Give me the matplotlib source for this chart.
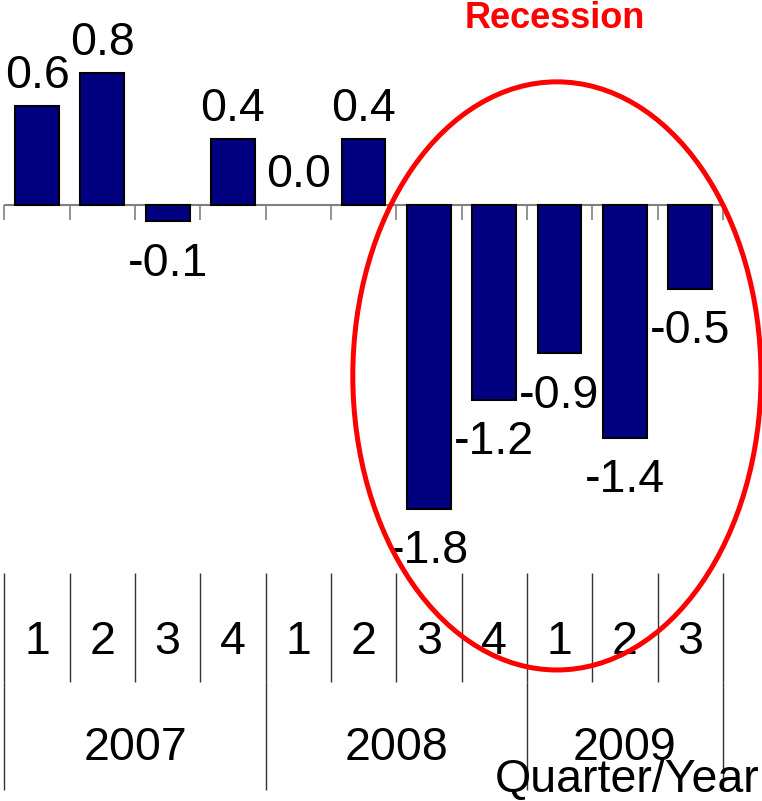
import matplotlib
matplotlib.use("Agg")
import matplotlib.pyplot as plt
from matplotlib.patches import Ellipse
from matplotlib import transforms

plt.rcParams['font.family'] = ['Liberation Sans', 'DejaVu Sans']

# quarterly GDP change (%)
quarters = ['1', '2', '3', '4', '1', '2', '3', '4', '1', '2', '3']
years = ['2007', '2008', '2009']
year_counts = [4, 4, 3]
values = [0.6, 0.8, -0.1, 0.4, 0.0, 0.4, -1.84, -1.18, -0.9, -1.41, -0.51]

fig = plt.figure(figsize=(7.62, 8.01), dpi=100)
ax = fig.add_axes([0, 0, 1, 1])
ax.set_xlim(-0.567, 11.10)
ax.set_ylim(-3.612, 1.242)
ax.axis('off')

x = list(range(len(values)))
edge_w = [1.5 if v != 0 else 0 for v in values]
ax.bar(x, values, width=0.67, color='#000080', edgecolor='black', linewidth=edge_w, zorder=3)

# zero axis line with tick marks at category boundaries
ax.hlines(0, -0.5, len(values) - 0.5, color='#808080', linewidth=1.5, zorder=2)
bounds = [i - 0.5 for i in range(len(values) + 1)]
ax.vlines(bounds, -0.09, 0, color='#808080', linewidth=1.2, zorder=2)

fs = 33.5
# value labels
for xi, v in zip(x, values):
    if v >= 0:
        ax.annotate(f"{v:.1f}", (xi, v), xytext=(0, 13), textcoords='offset points',
                    ha='center', va='baseline', fontsize=fs)
    else:
        ax.annotate(f"{v:.1f}", (xi, v), xytext=(0, -14.5), textcoords='offset points',
                    ha='center', va='top', fontsize=fs)

# category table below the chart
trans = transforms.blended_transform_factory(ax.transData, ax.transAxes)
ax.vlines(bounds, 0.1486, 0.2846, transform=trans, color='#333333', linewidth=1, clip_on=False)
for xi, q in zip(x, quarters):
    ax.text(xi, 0.1985, q, transform=trans, ha='center', va='center', fontsize=fs)

start = 0
year_bounds = [-0.5]
for yr, n in zip(years, year_counts):
    mid = start + (n - 1) / 2
    ax.text(mid, 0.0662, yr, transform=trans, ha='center', va='center', fontsize=fs)
    start += n
    year_bounds.append(start - 0.5)
ax.vlines(year_bounds, 0.0137, 0.1486, transform=trans, color='#333333', linewidth=1, clip_on=False)

ax.text(0.997, 0.026, 'Quarter/Year', transform=ax.transAxes, ha='right', va='center', fontsize=fs)

# recession highlight
ell = Ellipse((7.96, -1.036), 6.25, 3.564, fill=False, edgecolor='red', linewidth=3.6, zorder=5)
ax.add_patch(ell)
ax.text(0.728, 0.9775, 'Recession', transform=ax.transAxes, ha='center', va='center',
        fontsize=26, fontweight='bold', color='red')

fig.savefig('out.png', dpi=100)
